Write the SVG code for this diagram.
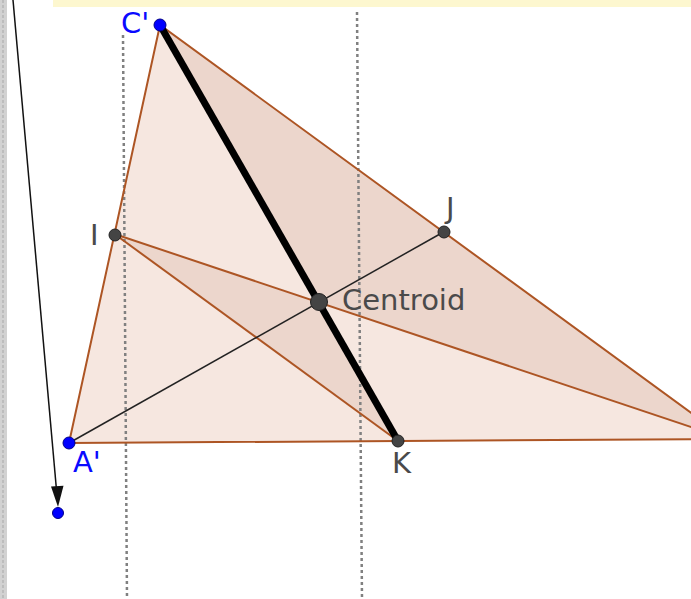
<svg xmlns="http://www.w3.org/2000/svg" width="691" height="599" viewBox="0 0 691 599">
<style>
.lbl{font-family:"DejaVu Sans","Liberation Sans",sans-serif;font-size:29px}
.blue{fill:#0a0aff}
.gray{fill:#4a4a4a}
.edge{stroke:#ad5524;stroke-width:2;fill:none}
.dot{stroke:#808080;stroke-width:2.5;stroke-dasharray:3 3;fill:none}
.pt{fill:#444;stroke:#222;stroke-width:1}
.bpt{fill:#0000ff;stroke:#00008a;stroke-width:1}
</style>
<rect x="0" y="0" width="691" height="599" fill="#ffffff"/>
<rect x="0" y="0" width="7" height="599" fill="#d2d2d2"/>
<line x1="3" y1="0" x2="3" y2="599" stroke="#bdbdbd" stroke-width="2" stroke-dasharray="3 2"/>
<rect x="53" y="0" width="638" height="7" fill="#fdf7cf"/>

<g id="shapes">
<polygon points="69,443 160,25 727,439" fill="#f6e7e0"/>
<polygon points="160,25 318.7,302.3 727,439" fill="#ecd6cc"/>
<polygon points="114.5,234 318.7,302.3 398,441" fill="#ecd6cc"/>
</g>

<g id="guides">
<line class="dot" x1="123" y1="35" x2="127" y2="599"/>
<line class="dot" x1="357" y1="12" x2="362" y2="599"/>
</g>

<g id="connectors">
<line x1="13" y1="0" x2="56.5" y2="490" stroke="#111" stroke-width="1.5"/>
<polygon points="51,486.5 63.5,485.8 58,507" fill="#111"/>
<polygon class="edge" points="69,443 160,25 727,439"/>
<line class="edge" x1="114.5" y1="234" x2="727" y2="439"/>
<line class="edge" x1="114.5" y1="234" x2="398" y2="441"/>
<line x1="69" y1="443" x2="443.5" y2="232" stroke="#222" stroke-width="1.5"/>
<line x1="160" y1="25" x2="398" y2="441" stroke="#000" stroke-width="7"/>
</g>

<g id="node-Cp"><circle class="bpt" cx="160" cy="25" r="6"/><text class="lbl blue" x="121" y="33">C'</text></g>
<g id="node-Ap"><circle class="bpt" cx="69" cy="443" r="6"/><text class="lbl blue" x="73" y="472">A'</text></g>
<g id="node-I"><circle class="pt" cx="115" cy="235" r="6"/><text class="lbl gray" x="90" y="245">I</text></g>
<g id="node-J"><circle class="pt" cx="444" cy="232" r="6"/><text class="lbl gray" x="446" y="218">J</text></g>
<g id="node-K"><circle class="pt" cx="398" cy="441" r="6"/><text class="lbl gray" x="392" y="473">K</text></g>
<g id="node-G"><circle class="pt" cx="319" cy="302" r="8.5"/><text class="lbl gray" x="342" y="310">Centroid</text></g>
<g id="node-end"><circle class="bpt" cx="58" cy="513" r="5.5"/></g>
</svg>
